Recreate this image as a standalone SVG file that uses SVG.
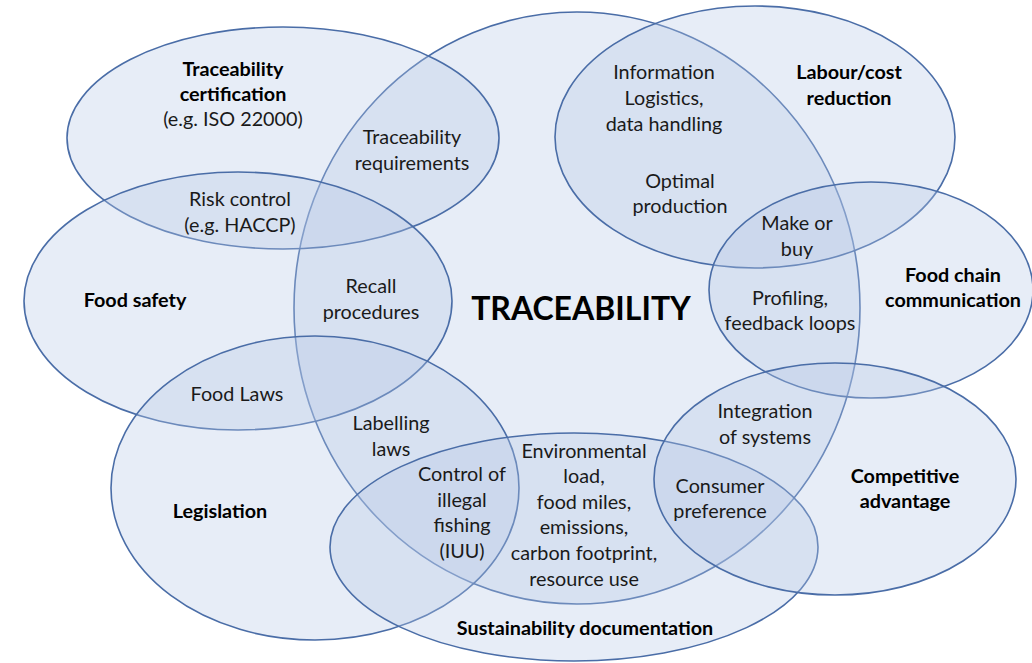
<svg xmlns="http://www.w3.org/2000/svg" width="1032" height="663" viewBox="0 0 1032 663">
  <style>
    .set { fill: #b4c7e7; fill-opacity: 0.32; stroke: #4a6da7; stroke-width: 1.6; }
    text { font-family: Lato, "Open Sans", "Liberation Sans", sans-serif; font-size: 19.8px; fill: #1a1a1a; text-anchor: middle; }
    .title { font-weight: bold; fill: #000; }
    .main { font-weight: bold; font-size: 32px; fill: #000; }
  </style>
  <rect width="1032" height="663" fill="#ffffff"/>

  <!-- overlapping sets -->
  <g id="traceability">
    <ellipse class="set" cx="577" cy="308" rx="283" ry="296"/>
  </g>
  <g id="traceability-certification">
    <ellipse class="set" cx="283" cy="138" rx="216" ry="111"/>
  </g>
  <g id="food-safety">
    <ellipse class="set" cx="238" cy="301" rx="214" ry="129"/>
  </g>
  <g id="legislation">
    <ellipse class="set" cx="315" cy="488" rx="204" ry="152"/>
  </g>
  <g id="sustainability-documentation">
    <ellipse class="set" cx="574" cy="547" rx="244" ry="114"/>
  </g>
  <g id="labour-cost-reduction">
    <ellipse class="set" cx="755" cy="137" rx="200" ry="131"/>
  </g>
  <g id="food-chain-communication">
    <ellipse class="set" cx="871" cy="290" rx="162" ry="108"/>
  </g>
  <g id="competitive-advantage">
    <ellipse class="set" cx="835" cy="479" rx="181" ry="116"/>
  </g>

  <g id="connectors"></g>

  <!-- set titles -->
  <g id="titles">
    <text class="main" x="581" y="320">TRACEABILITY</text>
    <text class="title" x="233" y="76">Traceability</text>
    <text class="title" x="233" y="101">certification</text>
    <text x="233" y="126">(e.g. ISO 22000)</text>
    <text class="title" x="135" y="307">Food safety</text>
    <text class="title" x="220" y="518">Legislation</text>
    <text class="title" x="585" y="635">Sustainability documentation</text>
    <text class="title" x="849" y="79">Labour/cost</text>
    <text class="title" x="849" y="105">reduction</text>
    <text class="title" x="953" y="282">Food chain</text>
    <text class="title" x="953" y="307">communication</text>
    <text class="title" x="905" y="483">Competitive</text>
    <text class="title" x="905" y="508">advantage</text>
  </g>

  <!-- overlap labels -->
  <g id="overlaps">
    <text x="412" y="144">Traceability</text>
    <text x="412" y="170">requirements</text>
    <text x="240" y="206">Risk control</text>
    <text x="240" y="232">(e.g. HACCP)</text>
    <text x="371" y="293">Recall</text>
    <text x="371" y="319">procedures</text>
    <text x="237" y="401">Food Laws</text>
    <text x="391" y="430">Labelling</text>
    <text x="391" y="456">laws</text>
    <text x="462" y="481">Control of</text>
    <text x="462" y="507">illegal</text>
    <text x="462" y="532">fishing</text>
    <text x="462" y="558">(IUU)</text>
    <text x="584" y="458">Environmental</text>
    <text x="584" y="483">load,</text>
    <text x="584" y="509">food miles,</text>
    <text x="584" y="534">emissions,</text>
    <text x="584" y="560">carbon footprint,</text>
    <text x="584" y="586">resource use</text>
    <text x="720" y="493">Consumer</text>
    <text x="720" y="518">preference</text>
    <text x="765" y="418">Integration</text>
    <text x="765" y="444">of systems</text>
    <text x="664" y="79">Information</text>
    <text x="664" y="105">Logistics,</text>
    <text x="664" y="131">data handling</text>
    <text x="680" y="188">Optimal</text>
    <text x="680" y="213">production</text>
    <text x="797" y="230">Make or</text>
    <text x="797" y="256">buy</text>
    <text x="790" y="305">Profiling,</text>
    <text x="790" y="330">feedback loops</text>
  </g>
</svg>
